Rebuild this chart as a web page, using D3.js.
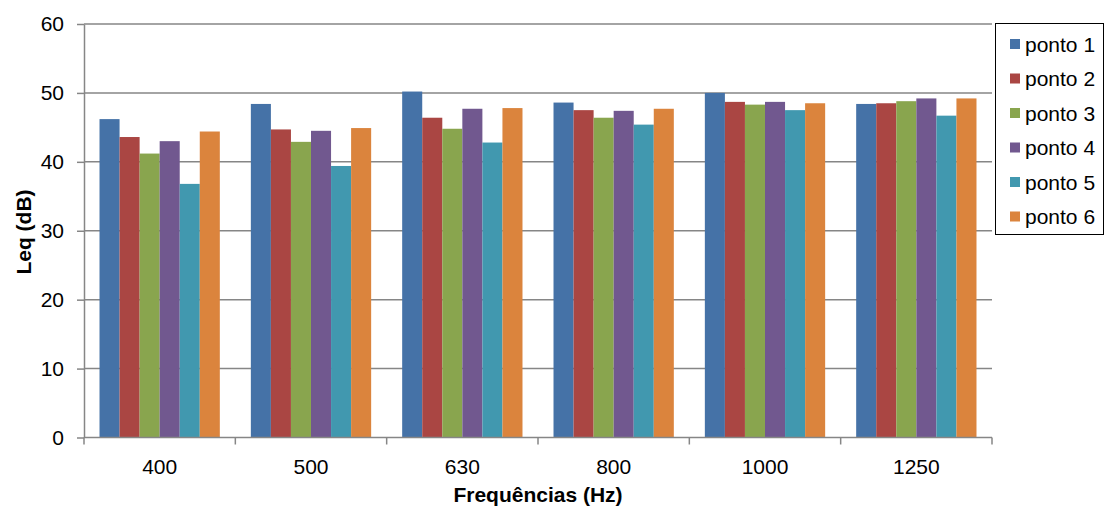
<!DOCTYPE html>
<html><head><meta charset="utf-8">
<script src="https://cdn.jsdelivr.net/npm/d3@7"></script>
<style>body{margin:0;background:#fff;}svg{display:block;font-family:"Liberation Sans",Arial,sans-serif;}</style>
</head><body><svg id="c" width="1104" height="508"></svg>
<script>
const categories = ["400","500","630","800","1000","1250"];
const seriesNames = ["ponto 1","ponto 2","ponto 3","ponto 4","ponto 5","ponto 6"];
const ponto1 = [46.2, 48.4, 50.2, 48.6, 50.0, 48.4];
const ponto2 = [43.6, 44.7, 46.4, 47.5, 48.7, 48.5];
const ponto3 = [41.2, 42.9, 44.8, 46.4, 48.3, 48.8];
const ponto4 = [43.0, 44.5, 47.7, 47.4, 48.7, 49.2];
const ponto5 = [36.8, 39.4, 42.8, 45.4, 47.5, 46.7];
const ponto6 = [44.4, 44.9, 47.8, 47.7, 48.5, 49.2];
const yTicks = [0,10,20,30,40,50,60];
const colors = ["#4572A7","#AA4643","#89A54E","#71588F","#4198AF","#DB843D"];
const series = [ponto1,ponto2,ponto3,ponto4,ponto5,ponto6];

const svg = d3.select("#c");
const L=84, R=992, T=24, B=437.5;
const FS = 21;
const x = d3.scaleBand().domain(categories).range([L,R]).paddingInner(0.205).paddingOuter(0.1025);
const xs = d3.scaleBand().domain(d3.range(6)).range([0, x.bandwidth()]);
const y = d3.scaleLinear().domain([0,60]).range([B,T]);
const grid="#868686";

// gridlines
svg.append("g").selectAll("line").data(yTicks.filter(d=>d>0)).join("line")
  .attr("x1",L).attr("x2",R).attr("y1",d=>y(d)).attr("y2",d=>y(d))
  .attr("stroke",grid).attr("stroke-width",1.5);

// bars
categories.forEach((c,ci)=>{
  svg.append("g").selectAll("rect").data(series.map((s,si)=>({si,v:s[ci]}))).join("rect")
    .attr("x",d=>x(c)+xs(d.si)).attr("width",xs.bandwidth())
    .attr("y",d=>y(d.v)).attr("height",d=>B-y(d.v))
    .attr("fill",d=>colors[d.si]);
});

// y axis
const ya = svg.append("g").attr("transform",`translate(${L},0)`)
  .call(d3.axisLeft(y).tickValues(yTicks).tickSize(7).tickPadding(13).tickSizeOuter(0));
ya.select(".domain").attr("stroke",grid).attr("stroke-width",1.5);
ya.selectAll(".tick line").attr("stroke",grid).attr("stroke-width",1.5);
ya.selectAll("text").attr("font-size",FS).attr("fill","#000").attr("font-family","Liberation Sans, Arial, sans-serif");

// x axis
const xa = svg.append("g").attr("transform",`translate(0,${B})`);
xa.append("line").attr("x1",L).attr("x2",R).attr("stroke",grid).attr("stroke-width",1.5);
const bounds = d3.range(7).map(i=>L+(R-L)*i/6);
xa.selectAll("line.t").data(bounds).join("line").attr("class","t")
  .attr("x1",d=>d).attr("x2",d=>d).attr("y1",0).attr("y2",7).attr("stroke",grid).attr("stroke-width",1.5);
xa.selectAll("text").data(categories).join("text")
  .attr("x",d=>x(d)+x.bandwidth()/2).attr("y",36).attr("text-anchor","middle")
  .attr("font-size",FS).text(d=>d);

// titles
svg.append("text").attr("x",538).attr("y",502).attr("text-anchor","middle")
  .attr("font-size",FS).attr("font-weight","bold").text("Frequências (Hz)");
svg.append("text").attr("transform",`translate(31,232) rotate(-90)`).attr("text-anchor","middle")
  .attr("font-size",FS).attr("font-weight","bold").text("Leq (dB)");

// legend
const lg = svg.append("g");
lg.append("rect").attr("x",995.5).attr("y",23.5).attr("width",108).attr("height",211)
  .attr("fill","#fff").attr("stroke","#000").attr("stroke-width",1);
seriesNames.forEach((n,i)=>{
  const cy = 44 + i*34.5;
  lg.append("rect").attr("x",1010).attr("y",cy-5).attr("width",10).attr("height",10).attr("fill",colors[i]);
  lg.append("text").attr("x",1025).attr("y",cy+7.5).attr("font-size",FS).text(n);
});
</script></body></html>
